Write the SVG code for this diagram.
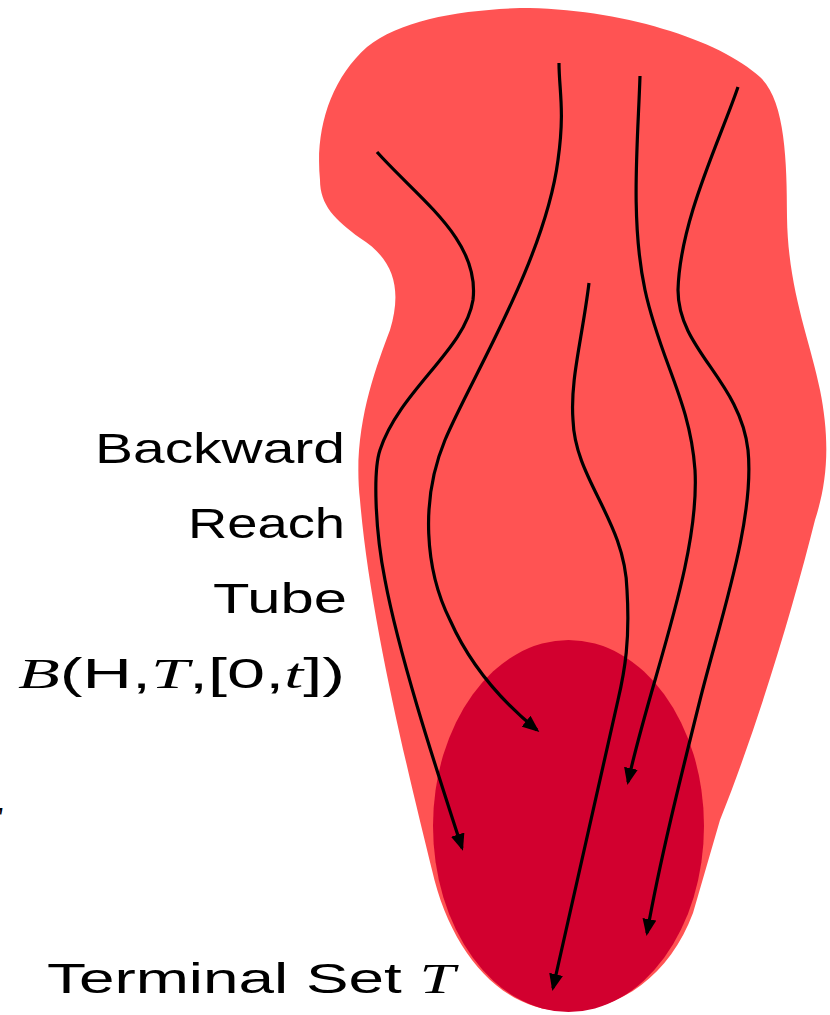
<svg xmlns="http://www.w3.org/2000/svg" width="830" height="1015" viewBox="0 0 830 1015">
<style>
.lbl{font-family:"Liberation Sans",Arial,sans-serif;font-size:43px;fill:#000}
.m{font-family:"Liberation Serif","Times New Roman",serif;font-style:italic}
.traj{fill:none;stroke:#000;stroke-width:3.2;marker-end:url(#ah)}
</style>
<defs>
<marker id="ah" markerUnits="userSpaceOnUse" markerWidth="18" markerHeight="14" refX="14" refY="7" orient="auto" viewBox="0 0 18 14">
<path d="M0,0 L17,7 L0,14 z" fill="#000"/>
</marker>
</defs>
<g id="tube">
<path fill="#FF5353" d="M520,8 C620,8 720,40 760,77 C785,100 787,160 787,217 C788,290 810,340 820,390 C830,440 828,480 815,520 C795,600 760,720 720,820 L693,913 C670,975 620,1011 565,1011 C500,1011 450,950 432,870 C410,780 370,620 360,500 C352,430 375,370 390,330 C402,290 395,260 360,238 C335,220 320,205 320,180 C315,130 330,80 367,47 C400,20 460,10 520,8 Z"/>
</g>
<g id="terminal-set">
<ellipse cx="568.5" cy="826" rx="135.5" ry="186" fill="#D2002F"/>
</g>
<g id="trajectories">
<path class="traj" d="M377,152 C420,200 480,240 473,300 C465,350 400,390 380,450 C373,471 375,530 385,580 C400,660 440,780 462,848"/>
<path class="traj" d="M559,63 C559,90 565,110 558,160 C545,260 470,380 445,440 C420,500 425,570 450,620 C470,665 500,700 537,730"/>
<path class="traj" d="M589,283 C582,340 570,380 573,420 C575,480 625,520 627,590 C630,640 625,670 618,700 L553,988"/>
<path class="traj" d="M640,76 C638,140 630,220 645,290 C660,360 690,400 695,470 C700,560 650,680 628,782"/>
<path class="traj" d="M738,87 C720,140 680,220 678,290 C678,350 740,380 748,450 C755,520 720,620 700,700 C680,780 660,860 647,933"/>
</g>
<g id="labels">
<text class="lbl" x="95" y="463" textLength="250" lengthAdjust="spacingAndGlyphs">Backward</text>
<text class="lbl" x="188" y="538" textLength="157" lengthAdjust="spacingAndGlyphs">Reach</text>
<text class="lbl" x="213" y="613" textLength="134" lengthAdjust="spacingAndGlyphs">Tube</text>
<text class="lbl" x="18" y="688" textLength="327" lengthAdjust="spacingAndGlyphs"><tspan class="m">B</tspan>(H,<tspan class="m">T</tspan>,[0,<tspan class="m">t</tspan>])</text>
<text class="lbl" x="47" y="993" textLength="408" lengthAdjust="spacingAndGlyphs">Terminal Set <tspan class="m">T</tspan></text>
<text class="lbl m" x="-24" y="836">T</text>
</g>
</svg>
